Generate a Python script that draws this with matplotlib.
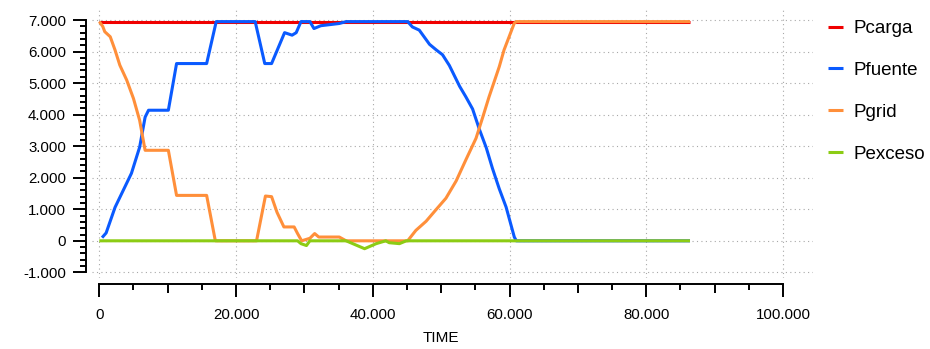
import matplotlib
matplotlib.use('Agg')
import matplotlib.pyplot as plt
from matplotlib.ticker import FixedLocator, FuncFormatter

plt.rcParams['font.family'] = ['Liberation Sans', 'DejaVu Sans']

# Series (time in seconds, power values)
t_carga = [0, 86400]
p_carga = [6950, 6950]

t_fuente = [400, 1000, 2300, 3500, 4700, 5900, 6700, 7200, 10100, 11300, 15700, 17100,
            22800, 24200, 25200, 27100, 28200, 28800, 29500, 30800, 31400, 32400, 35100,
            36100, 45100, 45800, 46800, 48300, 49300, 50200, 51200, 52700, 53600, 54600,
            55600, 56600, 57500, 58500, 59500, 60700, 61000, 86400]
p_fuente = [100, 250, 1060, 1600, 2140, 2970, 3920, 4140, 4140, 5620, 5620, 6950,
            6950, 5620, 5620, 6600, 6520, 6600, 6950, 6950, 6730, 6820, 6890,
            6950, 6950, 6780, 6680, 6230, 6050, 5900, 5560, 4900, 4570, 4180,
            3530, 2950, 2300, 1650, 1070, 120, 0, 0]

t_grid = [0, 500, 800, 1600, 2300, 3000, 4000, 5000, 5900, 6700, 10100, 11300, 15700,
          16900, 17000, 23000, 24300, 25200, 26000, 27000, 28500, 29000, 29600, 30800,
          31500, 32100, 35100, 36100, 45100, 46300, 47800, 49300, 50700, 52200, 53600,
          55100, 56100, 57000, 58000, 58500, 59200, 60700, 61000, 86400]
p_grid = [6950, 6800, 6630, 6470, 6050, 5570, 5100, 4510, 3820, 2870, 2870, 1440, 1440,
          80, 0, 0, 1420, 1400, 900, 440, 440, 230, 0, 80,
          230, 120, 120, 0, 0, 330, 620, 1000, 1350, 1900, 2560,
          3250, 3930, 4560, 5200, 5520, 6050, 6900, 6950, 6950]

t_exceso = [0, 29000, 29500, 30300, 30800, 36100, 38800, 40500, 41900, 42400, 43900, 44900, 86400]
p_exceso = [0, 0, -90, -150, 0, 0, -250, -90, 0, -60, -90, 0, 0]

labels = ['Pcarga', 'Pfuente', 'Pgrid', 'Pexceso']
colors = ['#f00000', '#0a5aff', '#ff8f3a', '#8ccc14']

x_major = [0, 20000, 40000, 60000, 80000, 100000]
y_major = [-1000, 0, 1000, 2000, 3000, 4000, 5000, 6000, 7000]

fig = plt.figure(figsize=(9.3, 3.49), dpi=100)
ax = fig.add_axes([92 / 930, 1 - 278 / 349, 721 / 930, 268 / 349])

series = [(t_carga, p_carga), (t_fuente, p_fuente), (t_grid, p_grid), (t_exceso, p_exceso)]
for (t, p), lab, c in zip(series, labels, colors):
    ax.plot(t, p, color=c, lw=2.2, label=lab, solid_capstyle='butt')

ax.set_xlim(-1068, 104390)
ax.set_ylim(-1179, 7318)

# detached axes, qwt style
for s in ['top', 'right']:
    ax.spines[s].set_visible(False)
ax.spines['left'].set_position(('outward', 4.3))
ax.spines['bottom'].set_position(('outward', 4.3))
ax.spines['left'].set_bounds(-1000, 7000)
ax.spines['bottom'].set_bounds(0, 100000)
ax.spines['left'].set_linewidth(1.4)
ax.spines['bottom'].set_linewidth(1.4)

ax.xaxis.set_major_locator(FixedLocator(x_major))
ax.xaxis.set_minor_locator(FixedLocator([v for v in range(5000, 100000, 5000) if v % 20000]))
ax.yaxis.set_major_locator(FixedLocator(y_major))
ax.yaxis.set_minor_locator(FixedLocator([v for v in range(-1000, 7001, 200) if v % 1000]))

fmt = FuncFormatter(lambda v, pos: f'{v:,.0f}'.replace(',', '.'))
ax.xaxis.set_major_formatter(fmt)
ax.yaxis.set_major_formatter(fmt)

ax.tick_params(which='major', length=9.5, width=1.4, color='black', labelsize=10.8)
ax.tick_params(which='minor', length=4.5, width=1.4, color='black')
ax.tick_params(axis='y', which='major', pad=5)
ax.tick_params(axis='x', which='major', pad=7.5)

ax.grid(True, which='major', color='#a8a8a8', lw=0.8, linestyle=(0, (1, 3)))
ax.set_axisbelow(True)

ax.set_xlabel('TIME', x=0.484, fontsize=11, labelpad=7)

ax.legend(loc='upper left', bbox_to_anchor=(828 / 930, 1 - 20 / 349),
          bbox_transform=fig.transFigure, frameon=False,
          fontsize=13.5, handlelength=0.8, handletextpad=0.55, labelspacing=1.32,
          borderaxespad=0, borderpad=0)

# medium ticks every 10.000 on the time axis
fig.canvas.draw()
for tk in ax.xaxis.get_minor_ticks():
    if tk.get_loc() % 10000 == 0:
        tk.tick1line.set_markersize(6.5)

fig.savefig('out.png', dpi=100)
